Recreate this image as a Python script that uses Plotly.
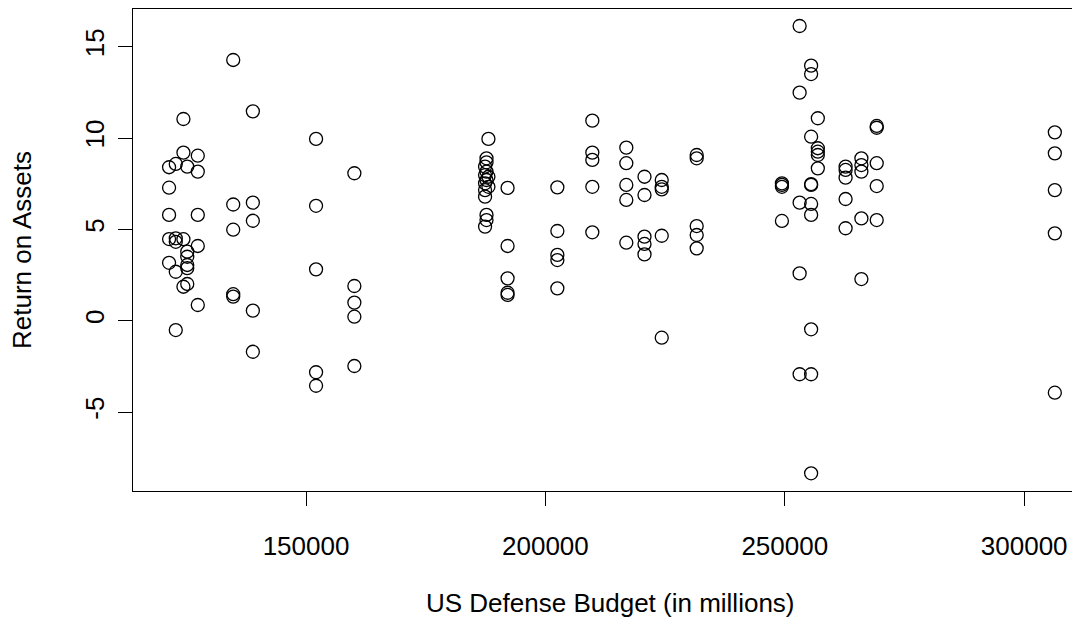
import plotly.graph_objects as go

# Defense budget (millions) for each column of observations
budget_levels = [121400, 122800, 124400, 125200, 127400, 134800, 138900, 152100, 160100,
                 187400, 187700, 188100, 192100, 202500, 209800, 216900, 220700, 224300,
                 231600, 249400, 253100, 255500, 256900, 262700, 266000, 269200, 306400]

# Return on assets observed at each budget level
roa_by_level = [
    [8.40, 7.28, 5.79, 4.47, 3.17],
    [8.58, 4.51, 4.32, 2.68, -0.51],
    [11.04, 9.20, 4.46, 1.86],
    [8.43, 3.78, 3.50, 3.05, 2.88, 2.01],
    [9.03, 8.16, 5.79, 4.09, 0.86],
    [14.27, 6.36, 4.98, 1.45, 1.32],
    [11.46, 6.46, 5.47, 0.55, -1.70],
    [9.95, 6.29, 2.81, -2.82, -3.56],
    [8.07, 1.90, 0.99, 0.22, -2.48],
    [8.43, 7.97, 7.52, 7.15, 6.79, 5.15],
    [8.89, 8.67, 8.16, 7.70, 5.79, 5.51],
    [9.95, 7.88, 7.33],
    [7.27, 4.09, 2.32, 1.53, 1.41],
    [7.30, 4.91, 3.60, 3.32, 1.77],
    [10.95, 9.20, 8.80, 7.33, 4.84],
    [9.47, 8.62, 7.43, 6.61, 4.27],
    [7.88, 6.88, 4.60, 4.20, 3.63],
    [7.70, 7.33, 7.19, 4.65, -0.93],
    [9.07, 8.89, 5.18, 4.69, 3.96],
    [7.52, 7.43, 7.33, 5.46],
    [16.13, 12.48, 6.46, 2.59, -2.93],
    [13.96, 13.50, 10.07, 7.48, 7.43, 6.39, 5.79, -0.47, -2.93, -8.35],
    [11.08, 9.44, 9.25, 9.07, 8.34],
    [8.43, 8.25, 7.83, 6.66, 5.06],
    [8.89, 8.52, 8.16, 5.60, 2.28],
    [10.66, 10.56, 8.62, 7.37, 5.51],
    [10.31, 9.16, 7.15, 4.78, -3.94],
]

x_ticks = [150000, 200000, 250000, 300000]
x_tick_labels = ["150000", "200000", "250000", "300000"]
y_ticks = [-5, 0, 5, 10, 15]
y_tick_labels = ["-5", "0", "5", "10", "15"]

xs, ys = [], []
for b, vals in zip(budget_levels, roa_by_level):
    for v in vals:
        xs.append(b)
        ys.append(v)

FONT = "Liberation Sans, Arial, sans-serif"

fig = go.Figure(go.Scatter(
    x=xs, y=ys, mode="markers",
    marker=dict(symbol="circle-open", size=13, color="black", line=dict(width=1.3, color="black")),
    showlegend=False, hoverinfo="x+y",
))

# page body adds an 8px offset; figure is sized so the plot box lands where the reference has it
fig.update_layout(
    width=1072, height=611,
    margin=dict(l=125, r=0, t=1, b=128),
    paper_bgcolor="white", plot_bgcolor="white",
    font=dict(family=FONT, size=26, color="black"),
    xaxis=dict(
        range=[113867, 311658], showgrid=False, zeroline=False,
        showline=True, linecolor="black", linewidth=1.3, mirror=True,
        ticks="outside", ticklen=14, tickwidth=1.3, tickcolor="black",
        tickvals=x_ticks, ticktext=x_tick_labels, ticklabelstandoff=18,
    ),
    yaxis=dict(
        range=[-9.32, 17.06], showgrid=False, zeroline=False,
        showline=True, linecolor="black", linewidth=1.3, mirror=False,
        ticks="outside", ticklen=14, tickwidth=1.3, tickcolor="black",
        tickvals=y_ticks, ticktext=y_tick_labels, tickangle=-90, ticklabelstandoff=3,
    ),
    annotations=[
        dict(text="US Defense Budget (in millions)", xref="paper", yref="paper",
             x=(610 - 133) / 947, y=(491 - 603) / 482, xanchor="center", yanchor="middle",
             showarrow=False, font=dict(family=FONT, size=26, color="black")),
        dict(text="Return on Assets", xref="paper", yref="paper",
             x=(22 - 133) / 947, y=0.5, xanchor="center", yanchor="middle", textangle=-90,
             showarrow=False, font=dict(family=FONT, size=26, color="black")),
    ],
)

fig.write_html("out.html")
